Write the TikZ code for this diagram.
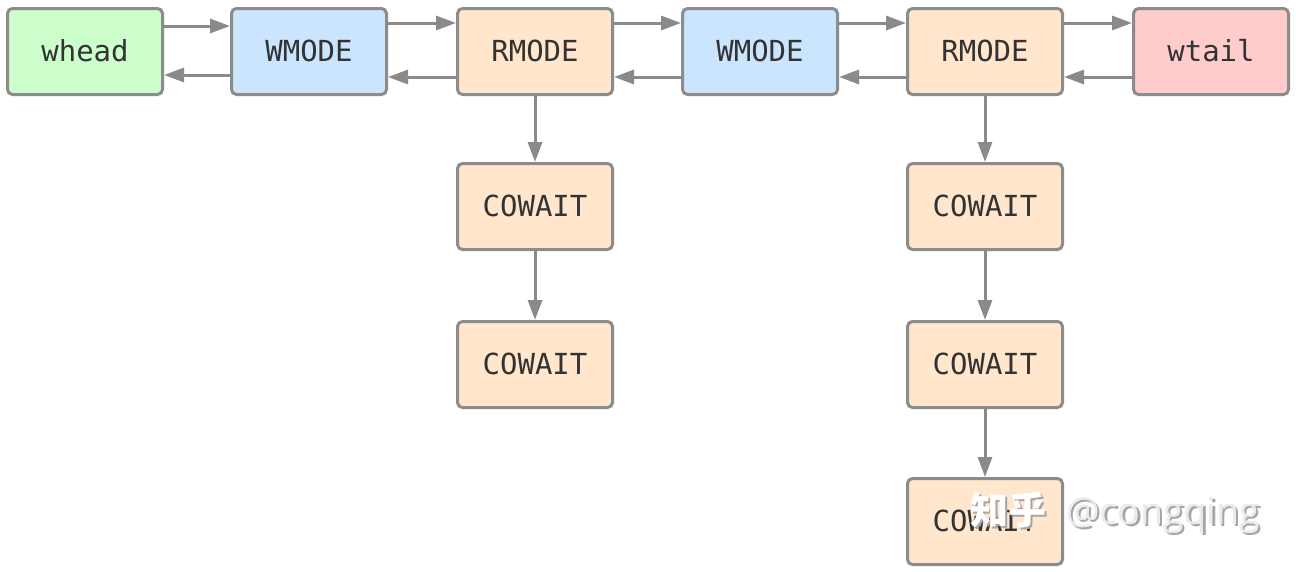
\documentclass[tikz,border=0pt]{standalone}
\usepackage{fontspec}
\setmonofont{DejaVu Sans Mono}
\newfontfamily\cjkfont{Noto Sans CJK SC}
\newfontfamily\wmfont{Open Sans}
\usetikzlibrary{arrows.meta,calc}
\definecolor{bordergray}{HTML}{8C8C8C}
\definecolor{arrgray}{HTML}{8A8A8A}
\definecolor{fgreen}{HTML}{CCFFCC}
\definecolor{fblue}{HTML}{CCE5FF}
\definecolor{forange}{HTML}{FFE6CC}
\definecolor{fred}{HTML}{FFCCCC}
\definecolor{txt}{HTML}{333333}
\tikzset{
  box/.style={draw=bordergray, line width=3pt, rounded corners=5pt,
    minimum width=155pt, minimum height=86pt, inner sep=0pt,
    font=\ttfamily\fontsize{29}{29}\selectfont, text=txt},
  gbox/.style={box, fill=fgreen},
  bbox/.style={box, fill=fblue},
  obox/.style={box, fill=forange},
  rbox/.style={box, fill=fred},
  arr/.style={draw=arrgray, line width=3pt,
    -{Triangle[length=20pt,width=14pt]}, arrgray},
}
\begin{document}
\begin{tikzpicture}[x=1pt,y=-1pt]
\useasboundingbox (0,0) rectangle (1296,571);
\fill[white] (0,0) rectangle (1296,571);
% top row
\node[gbox] (n1) at (85,51.5) {\raisebox{2.5pt}{whead}};
\node[bbox] (n2) at (309,51.5) {\raisebox{2.5pt}{WMODE}};
\node[obox] (n3) at (535,51.5) {\raisebox{2.5pt}{RMODE}};
\node[bbox] (n4) at (760,51.5) {\raisebox{2.5pt}{WMODE}};
\node[obox] (n5) at (985,51.5) {\raisebox{2.5pt}{RMODE}};
\node[rbox] (n6) at (1211,51.5) {\raisebox{2.5pt}{wtail}};
% columns
\node[obox] (c1) at (535,206.5) {\raisebox{1pt}{COWAIT}};
\node[obox] (c2) at (535,364.5) {\raisebox{1pt}{COWAIT}};
\node[obox] (d1) at (985,206.5) {\raisebox{1pt}{COWAIT}};
\node[obox] (d2) at (985,364.5) {\raisebox{1pt}{COWAIT}};
\node[obox] (d3) at (985,521.5) {\raisebox{1pt}{COWAIT}};
% horizontal arrows
\draw[arr] ($(n1.north east)+(0,19)$) -- ($(n2.north west)+(0,19)$);
\draw[arr] ($(n2.north west)+(0,68)$) -- ($(n1.north east)+(0,68)$);
\foreach \a/\b in {n2/n3,n3/n4,n4/n5,n5/n6}{
  \draw[arr] ($(\a.north east)+(0,16)$) -- ($(\b.north west)+(0,16)$);
  \draw[arr] ($(\b.north west)+(0,70)$) -- ($(\a.north east)+(0,70)$);
}
% vertical arrows
\draw[arr] (n3.south) -- (c1.north);
\draw[arr] (c1.south) -- (c2.north);
\draw[arr] (n5.south) -- (d1.north);
\draw[arr] (d1.south) -- (d2.north);
\draw[arr] (d2.south) -- (d3.north);
% watermark
\node[anchor=base west, inner sep=0pt, text=black!35, font=\cjkfont\bfseries\fontsize{38}{38}\selectfont] (wms) at (972.5,526.5) {知乎};
\node[anchor=base west, inner sep=0pt, text=white, font=\cjkfont\bfseries\fontsize{38}{38}\selectfont] (wm) at (970,524) {知乎};
\node[anchor=base west, inner sep=0pt, text=black!35, font=\wmfont\fontsize{37.5}{37.5}\selectfont] (wm2s) at (1068.5,526.5) {@congqing};
\node[anchor=base west, inner sep=0pt, text=black!8, font=\wmfont\fontsize{37.5}{37.5}\selectfont] (wm2) at (1066,524) {@congqing};
\end{tikzpicture}
\end{document}
